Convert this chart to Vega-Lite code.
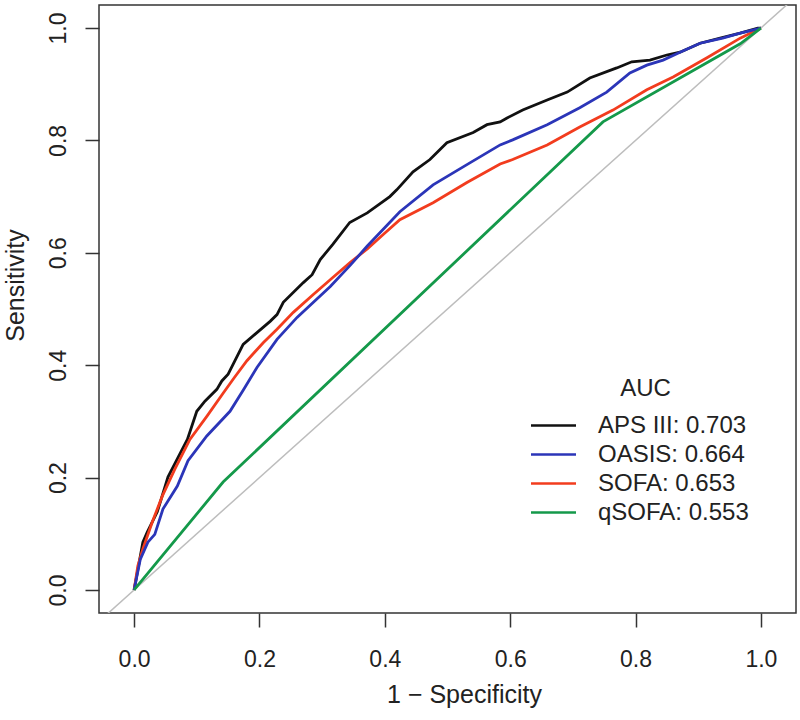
{
  "$schema": "https://vega.github.io/schema/vega-lite/v6.json",
  "width": 697,
  "height": 608,
  "autosize": "none",
  "padding": {"left": 99, "top": 5, "right": 4, "bottom": 107},
  "background": "white",
  "config": {
    "view": {"stroke": "#333333", "strokeWidth": 1.5},
    "font": "Liberation Sans"
  },
  "datasets": {
    "diag": [{"fpr": -0.1, "tpr": -0.1}, {"fpr": 1.1, "tpr": 1.1}],
    "roc": [
      {"model": "APS III: 0.703", "fpr": 0, "tpr": 0},
      {"model": "APS III: 0.703", "fpr": 0.014, "tpr": 0.085},
      {"model": "APS III: 0.703", "fpr": 0.021, "tpr": 0.103},
      {"model": "APS III: 0.703", "fpr": 0.037, "tpr": 0.139},
      {"model": "APS III: 0.703", "fpr": 0.054, "tpr": 0.201},
      {"model": "APS III: 0.703", "fpr": 0.085, "tpr": 0.268},
      {"model": "APS III: 0.703", "fpr": 0.1, "tpr": 0.318},
      {"model": "APS III: 0.703", "fpr": 0.113, "tpr": 0.336},
      {"model": "APS III: 0.703", "fpr": 0.132, "tpr": 0.357},
      {"model": "APS III: 0.703", "fpr": 0.14, "tpr": 0.372},
      {"model": "APS III: 0.703", "fpr": 0.15, "tpr": 0.384},
      {"model": "APS III: 0.703", "fpr": 0.174, "tpr": 0.437},
      {"model": "APS III: 0.703", "fpr": 0.196, "tpr": 0.458},
      {"model": "APS III: 0.703", "fpr": 0.217, "tpr": 0.478},
      {"model": "APS III: 0.703", "fpr": 0.228, "tpr": 0.49},
      {"model": "APS III: 0.703", "fpr": 0.238, "tpr": 0.512},
      {"model": "APS III: 0.703", "fpr": 0.27, "tpr": 0.547},
      {"model": "APS III: 0.703", "fpr": 0.284, "tpr": 0.561},
      {"model": "APS III: 0.703", "fpr": 0.297, "tpr": 0.588},
      {"model": "APS III: 0.703", "fpr": 0.317, "tpr": 0.615},
      {"model": "APS III: 0.703", "fpr": 0.344, "tpr": 0.654},
      {"model": "APS III: 0.703", "fpr": 0.372, "tpr": 0.671},
      {"model": "APS III: 0.703", "fpr": 0.408, "tpr": 0.7},
      {"model": "APS III: 0.703", "fpr": 0.419, "tpr": 0.712},
      {"model": "APS III: 0.703", "fpr": 0.445, "tpr": 0.744},
      {"model": "APS III: 0.703", "fpr": 0.472, "tpr": 0.766},
      {"model": "APS III: 0.703", "fpr": 0.499, "tpr": 0.796},
      {"model": "APS III: 0.703", "fpr": 0.541, "tpr": 0.814},
      {"model": "APS III: 0.703", "fpr": 0.563, "tpr": 0.828},
      {"model": "APS III: 0.703", "fpr": 0.584, "tpr": 0.833},
      {"model": "APS III: 0.703", "fpr": 0.595, "tpr": 0.84},
      {"model": "APS III: 0.703", "fpr": 0.62, "tpr": 0.854},
      {"model": "APS III: 0.703", "fpr": 0.659, "tpr": 0.872},
      {"model": "APS III: 0.703", "fpr": 0.691, "tpr": 0.886},
      {"model": "APS III: 0.703", "fpr": 0.727, "tpr": 0.911},
      {"model": "APS III: 0.703", "fpr": 0.77, "tpr": 0.929},
      {"model": "APS III: 0.703", "fpr": 0.794, "tpr": 0.94},
      {"model": "APS III: 0.703", "fpr": 0.823, "tpr": 0.943},
      {"model": "APS III: 0.703", "fpr": 0.85, "tpr": 0.952},
      {"model": "APS III: 0.703", "fpr": 0.871, "tpr": 0.957},
      {"model": "APS III: 0.703", "fpr": 0.903, "tpr": 0.973},
      {"model": "APS III: 0.703", "fpr": 0.935, "tpr": 0.982},
      {"model": "APS III: 0.703", "fpr": 0.967, "tpr": 0.991},
      {"model": "APS III: 0.703", "fpr": 0.995, "tpr": 1.0},
      {"model": "APS III: 0.703", "fpr": 1, "tpr": 1},
      {"model": "SOFA: 0.653", "fpr": 0, "tpr": 0},
      {"model": "SOFA: 0.653", "fpr": 0.006, "tpr": 0.043},
      {"model": "SOFA: 0.653", "fpr": 0.014, "tpr": 0.073},
      {"model": "SOFA: 0.653", "fpr": 0.029, "tpr": 0.121},
      {"model": "SOFA: 0.653", "fpr": 0.045, "tpr": 0.167},
      {"model": "SOFA: 0.653", "fpr": 0.065, "tpr": 0.215},
      {"model": "SOFA: 0.653", "fpr": 0.089, "tpr": 0.268},
      {"model": "SOFA: 0.653", "fpr": 0.116, "tpr": 0.309},
      {"model": "SOFA: 0.653", "fpr": 0.142, "tpr": 0.35},
      {"model": "SOFA: 0.653", "fpr": 0.16, "tpr": 0.378},
      {"model": "SOFA: 0.653", "fpr": 0.18, "tpr": 0.408},
      {"model": "SOFA: 0.653", "fpr": 0.206, "tpr": 0.44},
      {"model": "SOFA: 0.653", "fpr": 0.228, "tpr": 0.464},
      {"model": "SOFA: 0.653", "fpr": 0.254, "tpr": 0.494},
      {"model": "SOFA: 0.653", "fpr": 0.285, "tpr": 0.525},
      {"model": "SOFA: 0.653", "fpr": 0.317, "tpr": 0.556},
      {"model": "SOFA: 0.653", "fpr": 0.345, "tpr": 0.583},
      {"model": "SOFA: 0.653", "fpr": 0.372, "tpr": 0.607},
      {"model": "SOFA: 0.653", "fpr": 0.397, "tpr": 0.632},
      {"model": "SOFA: 0.653", "fpr": 0.424, "tpr": 0.659},
      {"model": "SOFA: 0.653", "fpr": 0.477, "tpr": 0.689},
      {"model": "SOFA: 0.653", "fpr": 0.531, "tpr": 0.725},
      {"model": "SOFA: 0.653", "fpr": 0.584, "tpr": 0.758},
      {"model": "SOFA: 0.653", "fpr": 0.604, "tpr": 0.766},
      {"model": "SOFA: 0.653", "fpr": 0.659, "tpr": 0.792},
      {"model": "SOFA: 0.653", "fpr": 0.711, "tpr": 0.824},
      {"model": "SOFA: 0.653", "fpr": 0.764, "tpr": 0.854},
      {"model": "SOFA: 0.653", "fpr": 0.818, "tpr": 0.89},
      {"model": "SOFA: 0.653", "fpr": 0.86, "tpr": 0.913},
      {"model": "SOFA: 0.653", "fpr": 0.914, "tpr": 0.947},
      {"model": "SOFA: 0.653", "fpr": 0.967, "tpr": 0.982},
      {"model": "SOFA: 0.653", "fpr": 1, "tpr": 1},
      {"model": "OASIS: 0.664", "fpr": 0, "tpr": 0},
      {"model": "OASIS: 0.664", "fpr": 0.01, "tpr": 0.055},
      {"model": "OASIS: 0.664", "fpr": 0.022, "tpr": 0.085},
      {"model": "OASIS: 0.664", "fpr": 0.033, "tpr": 0.099},
      {"model": "OASIS: 0.664", "fpr": 0.046, "tpr": 0.144},
      {"model": "OASIS: 0.664", "fpr": 0.069, "tpr": 0.185},
      {"model": "OASIS: 0.664", "fpr": 0.086, "tpr": 0.23},
      {"model": "OASIS: 0.664", "fpr": 0.116, "tpr": 0.274},
      {"model": "OASIS: 0.664", "fpr": 0.153, "tpr": 0.318},
      {"model": "OASIS: 0.664", "fpr": 0.175, "tpr": 0.357},
      {"model": "OASIS: 0.664", "fpr": 0.196, "tpr": 0.396},
      {"model": "OASIS: 0.664", "fpr": 0.228, "tpr": 0.446},
      {"model": "OASIS: 0.664", "fpr": 0.26, "tpr": 0.485},
      {"model": "OASIS: 0.664", "fpr": 0.313, "tpr": 0.54},
      {"model": "OASIS: 0.664", "fpr": 0.345, "tpr": 0.578},
      {"model": "OASIS: 0.664", "fpr": 0.372, "tpr": 0.612},
      {"model": "OASIS: 0.664", "fpr": 0.424, "tpr": 0.673},
      {"model": "OASIS: 0.664", "fpr": 0.477, "tpr": 0.721},
      {"model": "OASIS: 0.664", "fpr": 0.531, "tpr": 0.757},
      {"model": "OASIS: 0.664", "fpr": 0.584, "tpr": 0.792},
      {"model": "OASIS: 0.664", "fpr": 0.604, "tpr": 0.801},
      {"model": "OASIS: 0.664", "fpr": 0.659, "tpr": 0.828},
      {"model": "OASIS: 0.664", "fpr": 0.711, "tpr": 0.858},
      {"model": "OASIS: 0.664", "fpr": 0.754, "tpr": 0.886},
      {"model": "OASIS: 0.664", "fpr": 0.791, "tpr": 0.92},
      {"model": "OASIS: 0.664", "fpr": 0.818, "tpr": 0.934},
      {"model": "OASIS: 0.664", "fpr": 0.844, "tpr": 0.943},
      {"model": "OASIS: 0.664", "fpr": 0.871, "tpr": 0.957},
      {"model": "OASIS: 0.664", "fpr": 0.903, "tpr": 0.973},
      {"model": "OASIS: 0.664", "fpr": 0.939, "tpr": 0.982},
      {"model": "OASIS: 0.664", "fpr": 0.967, "tpr": 0.991},
      {"model": "OASIS: 0.664", "fpr": 1, "tpr": 1},
      {"model": "qSOFA: 0.553", "fpr": 0, "tpr": 0},
      {"model": "qSOFA: 0.553", "fpr": 0.142, "tpr": 0.192},
      {"model": "qSOFA: 0.553", "fpr": 0.748, "tpr": 0.833},
      {"model": "qSOFA: 0.553", "fpr": 0.967, "tpr": 0.972},
      {"model": "qSOFA: 0.553", "fpr": 1, "tpr": 1}
    ]
  },
  "layer": [
    {
      "data": {"name": "diag"},
      "mark": {"type": "line", "clip": true, "color": "#bdbdbd", "strokeWidth": 1.5},
      "encoding": {
        "x": {"field": "fpr", "type": "quantitative"},
        "y": {"field": "tpr", "type": "quantitative"}
      }
    },
    {
      "data": {"name": "roc"},
      "mark": {"type": "line", "strokeWidth": 2.8, "clip": true},
      "encoding": {
        "x": {
          "field": "fpr",
          "type": "quantitative",
          "scale": {"domain": [-0.056, 1.056], "nice": false, "zero": false},
          "axis": {
            "values": [0, 0.2, 0.4, 0.6, 0.8, 1.0],
            "format": ".1f",
            "domain": false,
            "grid": false,
            "tickSize": 14,
            "tickWidth": 1.5,
            "tickColor": "#333333",
            "labelFontSize": 23,
            "labelFont": "Liberation Sans",
            "labelColor": "#222222",
            "labelPadding": 21,
            "title": "1 − Specificity",
            "titleFont": "Liberation Sans",
            "titleFontSize": 25,
            "titleFontWeight": "normal",
            "titleColor": "#222222",
            "titleX": 365,
            "titleY": 89,
            "titleBaseline": "alphabetic",
            "titleAlign": "center"
          }
        },
        "y": {
          "field": "tpr",
          "type": "quantitative",
          "scale": {"domain": [-0.041, 1.041], "nice": false, "zero": false},
          "axis": {
            "values": [0, 0.2, 0.4, 0.6, 0.8, 1.0],
            "format": ".1f",
            "domain": false,
            "grid": false,
            "tickSize": 14,
            "tickWidth": 1.5,
            "tickColor": "#333333",
            "labelFontSize": 23,
            "labelFont": "Liberation Sans",
            "labelColor": "#222222",
            "labelAngle": -90,
            "labelAlign": "center",
            "labelBaseline": "alphabetic",
            "labelPadding": 20,
            "title": "Sensitivity",
            "titleFont": "Liberation Sans",
            "titleFontSize": 25,
            "titleFontWeight": "normal",
            "titleColor": "#222222",
            "titleAngle": -90,
            "titleX": -76,
            "titleY": 280,
            "titleBaseline": "alphabetic",
            "titleAlign": "center"
          }
        },
        "color": {
          "field": "model",
          "type": "nominal",
          "sort": null,
          "scale": {
            "domain": ["APS III: 0.703", "OASIS: 0.664", "SOFA: 0.653", "qSOFA: 0.553"],
            "range": ["#111111", "#2b35b8", "#f23c1e", "#14994a"]
          },
          "legend": {
            "orient": "none",
            "legendX": 442.5,
            "legendY": 372,
            "padding": 0,
            "title": "AUC",
            "titleFont": "Liberation Sans",
            "titleFontSize": 24,
            "titleFontWeight": "normal",
            "titleColor": "#222222",
            "titleAnchor": "middle",
            "titleBaseline": "top",
            "titlePadding": 12.5,
            "labelFont": "Liberation Sans",
            "labelFontSize": 24,
            "labelColor": "#222222",
            "labelOffset": 32.5,
            "labelLimit": 300,
            "symbolType": "M-3,0H3",
            "symbolSize": 225,
            "symbolStrokeWidth": 2.5,
            "rowPadding": 5
          }
        }
      }
    }
  ]
}
